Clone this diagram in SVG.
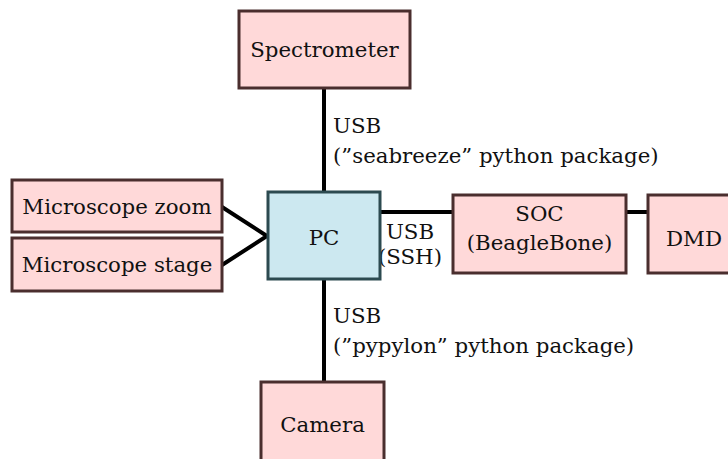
<svg xmlns="http://www.w3.org/2000/svg" width="728" height="459" viewBox="0 0 728 459">
<style>
text{font-family:"DejaVu Serif",serif;font-size:21.3px;fill:#111}
.c{text-anchor:middle}
.pink{fill:#ffd9d9;stroke:#4a2e2e;stroke-width:3}
.blue{fill:#cce8f0;stroke:#2c4a50;stroke-width:3}
.ln{stroke:#000;stroke-width:4;fill:none}
</style>
<rect width="728" height="459" fill="#fff"/>
<g id="connectors">
<line class="ln" x1="324" y1="88" x2="324" y2="192"/>
<line class="ln" x1="324" y1="280" x2="324" y2="382"/>
<line class="ln" x1="380" y1="212" x2="453" y2="212"/>
<line class="ln" x1="626" y1="212" x2="648" y2="212"/>
<polyline class="ln" points="222,207 267,236 222,265"/>
<text x="333" y="133">USB</text>
<text x="333" y="163">(”seabreeze” python package)</text>
<text x="333" y="323">USB</text>
<text x="333" y="353">(”pypylon” python package)</text>
<text class="c" x="410" y="239">USB</text>
<text class="c" x="410" y="264">(SSH)</text>
</g>
<g id="spectrometer">
<rect class="pink" x="239" y="11" width="171" height="77"/>
<text class="c" x="324.5" y="57">Spectrometer</text>
</g>
<g id="pc">
<rect class="blue" x="268" y="192" width="112" height="87"/>
<text class="c" x="324" y="245">PC</text>
</g>
<g id="microscope-zoom">
<rect class="pink" x="12" y="180" width="210" height="52"/>
<text class="c" x="117" y="214">Microscope zoom</text>
</g>
<g id="microscope-stage">
<rect class="pink" x="12" y="238" width="210" height="53"/>
<text class="c" x="117" y="272">Microscope stage</text>
</g>
<g id="soc">
<rect class="pink" x="453" y="195" width="173" height="78"/>
<text class="c" x="539.5" y="221">SOC</text>
<text class="c" x="539.5" y="250">(BeagleBone)</text>
</g>
<g id="dmd">
<rect class="pink" x="648" y="195" width="90" height="78"/>
<text class="c" x="694" y="246">DMD</text>
</g>
<g id="camera">
<rect class="pink" x="261" y="382" width="123" height="90"/>
<text class="c" x="322.5" y="432">Camera</text>
</g>
</svg>
